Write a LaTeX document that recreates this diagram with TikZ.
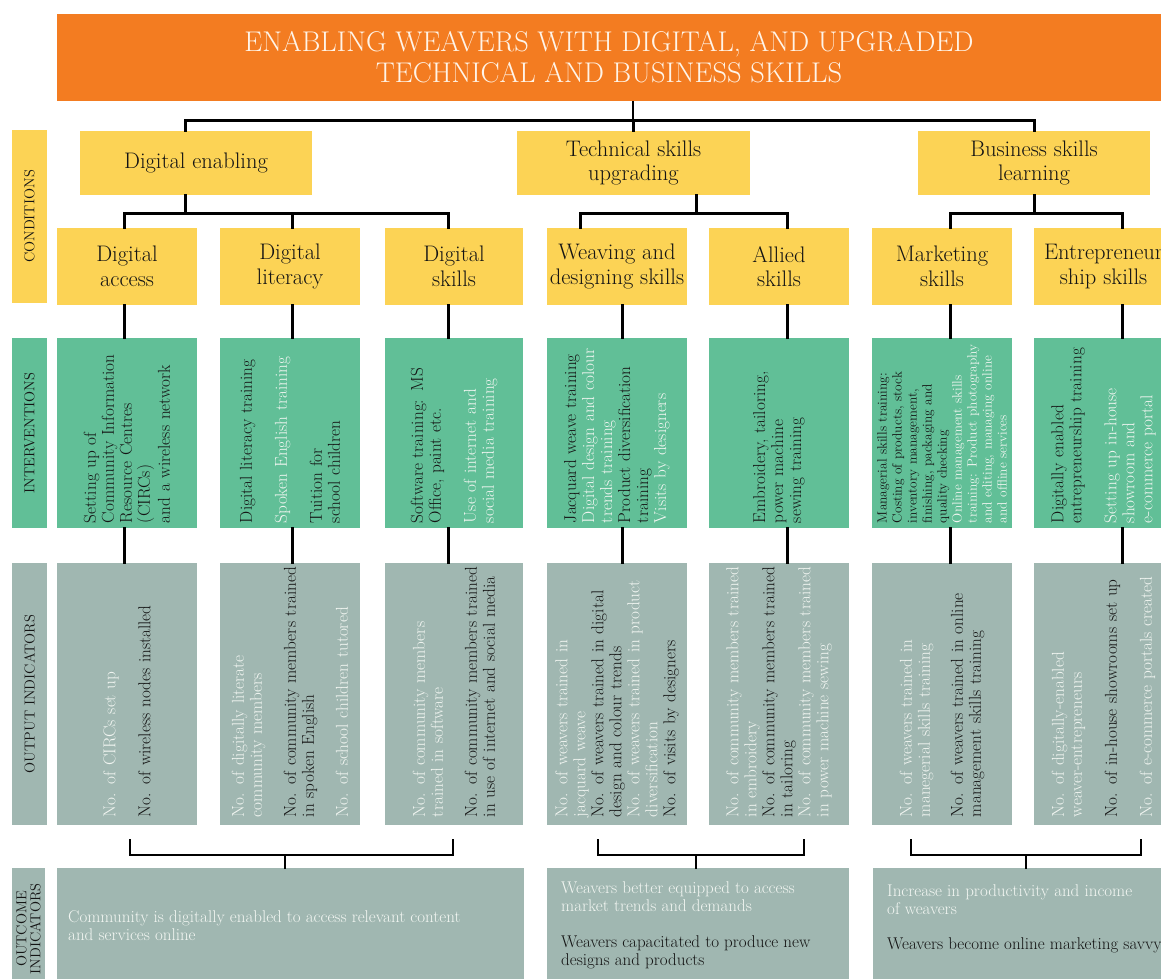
\documentclass[tikz,border=0pt]{standalone}
\usepackage{xcolor}
\usepackage{tikz}
\definecolor{titleorange}{RGB}{243,124,33}
\definecolor{titletext}{RGB}{255,244,232}
\definecolor{condyellow}{RGB}{252,211,85}
\definecolor{intgreen}{RGB}{97,191,151}
\definecolor{outgrey}{RGB}{160,183,177}
\definecolor{darktext}{RGB}{20,20,20}
\definecolor{lighttext}{RGB}{242,246,242}
\newcommand{\lite}[1]{\textcolor{lighttext}{#1}}

\begin{document}
\begin{tikzpicture}[x=1pt, y=-1pt,
    link/.style={line width=3pt, line cap=rect},
    stem/.style={line width=1.5pt},
    bracket/.style={line width=2.4pt, line cap=rect},
    sidebar/.style={rotate=90, inner sep=0pt, minimum height=35pt, align=center, text=darktext, font=\fontsize{14.5}{16}\selectfont},
    condtop/.style={fill=condyellow, minimum width=232pt, minimum height=64pt, inner sep=0pt, align=center, text=darktext, font=\fontsize{22.5}{24.5}\selectfont},
    condsub/.style={condtop, minimum width=140pt, minimum height=77pt},
    intbox/.style={fill=intgreen, minimum width=140pt, minimum height=190pt, inner sep=0pt},
    outbox/.style={fill=outgrey, minimum width=140pt, minimum height=262pt, inner sep=0pt},
    vtext/.style={rotate=90, anchor=west, inner sep=0pt, text width=200pt, align=left, text=darktext, font=\fontsize{17.2}{18}\selectfont},
    vwide/.style={vtext, text width=262pt},
    outcome/.style={fill=outgrey, minimum height=122pt, inner sep=0pt},
    octext/.style={anchor=north west, inner sep=0pt, align=left, text=darktext, font=\fontsize{17}{18}\selectfont}]
    \useasboundingbox (0,0) rectangle (1161,978);
    \clip (0,0) rectangle (1161,978);

    % title
    \node[fill=titleorange, minimum width=1104pt, minimum height=87pt, inner sep=0pt, align=center, text=titletext, font=\fontsize{28.5}{31}\selectfont] (title) at (609,57.5) {ENABLING WEAVERS WITH DIGITAL, AND UPGRADED\\TECHNICAL AND BUSINESS SKILLS};

    % row labels
    \node[sidebar, fill=condyellow, minimum width=173pt] (scond) at (29.5,216.5) {CONDITIONS};
    \node[sidebar, fill=intgreen, minimum width=190pt] (sint) at (29.5,433) {INTERVENTIONS};
    \node[sidebar, fill=outgrey, minimum width=262pt] (sout) at (29.5,694) {OUTPUT INDICATORS};
    \node[sidebar, fill=outgrey, minimum width=122pt, minimum height=33pt, font=\fontsize{14.5}{14}\selectfont] (soc) at (28.5,929) {OUTCOME\\INDICATORS};

    % conditions
    \node[condtop] (digen) at (196,163) {Digital enabling};
    \node[condtop, minimum width=233pt] (tech) at (633.5,163) {Technical skills\\upgrading};
    \node[condtop] (busi) at (1034,163) {Business skills\\learning};

    \node[condsub] (cacc) at (127,266.5) {Digital\\access};
    \node[condsub] (clit) at (290,266.5) {Digital\\literacy};
    \node[condsub, minimum width=138pt] (cskl) at (454,266.5) {Digital\\skills};
    \node[condsub] (cwev) at (617,266.5) {Weaving and\\designing skills};
    \node[condsub] (call) at (779,266.5) {Allied\\skills};
    \node[condsub] (cmkt) at (942,266.5) {Marketing\\skills};
    \node[condsub] (cent) at (1103.5,266.5) {Entrepreneur\\ship skills};

    % interventions
    \node[intbox] (iacc) at (127,433) {};
    \node[intbox] (ilit) at (290,433) {};
    \node[intbox, minimum width=138pt] (iskl) at (454,433) {};
    \node[intbox] (iwev) at (617,433) {};
    \node[intbox] (iall) at (779,433) {};
    \node[intbox] (imkt) at (942,433) {};
    \node[intbox] (ient) at (1103.5,433) {};

    \node[vtext] (tacc) at ([yshift=5pt]iacc.south) {Setting up of\\Community Information\\Resource Centres\\(CIRCs)\\[2pt]and a wireless network};
    \node[vtext] (tlit) at ([yshift=5pt]ilit.south) {Digital literacy training\\[17pt]\lite{Spoken English training}\\[17pt]Tuition for\\school children};
    \node[vtext] (tskl) at ([yshift=5pt]iskl.south) {Software training: MS\\Office, paint etc.\\[17pt]\lite{Use of internet and}\\\lite{social media training}};
    \node[vtext] (twev) at ([yshift=5pt]iwev.south) {Jacquard weave training\\\lite{Digital design and colour}\\\lite{trends training}\\Product diversification\\training\\\lite{Visits by designers}};
    \node[vtext] (tall) at ([yshift=5pt]iall.south) {Embroidery, tailoring,\\power machine\\sewing training};
    \node[vtext, font=\fontsize{13.4}{15}\selectfont] (tmkt) at ([yshift=5pt]imkt.south) {Managerial skills training:\\Costing of products, stock\\inventory management,\\finishing, packaging and\\quality checking\\\lite{Online management skills}\\\lite{training: Product photography}\\\lite{and editing, managing online}\\\lite{and offline services}};
    \node[vtext] (tent) at ([yshift=5pt]ient.south) {Digitally enabled\\entrepreneurship training\\[17pt]\lite{Setting up in-house}\\\lite{showroom and}\\\lite{e-commerce portal}};

    % output indicators
    \node[outbox] (oacc) at (127,694) {};
    \node[outbox] (olit) at (290,694) {};
    \node[outbox, minimum width=138pt] (oskl) at (454,694) {};
    \node[outbox] (owev) at (617,694) {};
    \node[outbox] (oall) at (779,694) {};
    \node[outbox] (omkt) at (942,694) {};
    \node[outbox] (oent) at (1103.5,694) {};

    \node[vwide] (uacc) at ([yshift=8pt]oacc.south) {\lite{No. of CIRCs set up}\\[17pt]No. of wireless nodes installed};
    \node[vwide] (ulit) at ([yshift=8pt]olit.south) {\lite{No. of digitally literate}\\\lite{community members}\\[16pt]No. of community members trained\\in spoken English\\[16pt]\lite{No. of school children tutored}};
    \node[vwide] (uskl) at ([yshift=8pt]oskl.south) {\lite{No. of community members}\\\lite{trained in software}\\[16pt]No. of community members trained\\in use of internet and social media};
    \node[vwide] (uwev) at ([yshift=8pt]owev.south) {\lite{No. of weavers trained in}\\\lite{jacquard weave}\\No. of weavers trained in digital\\design and colour trends\\\lite{No. of weavers trained in product}\\\lite{diversification}\\No. of visits by designers};
    \node[vwide] (uall) at ([yshift=8pt]oall.south) {\lite{No. of community members trained}\\\lite{in embroidery}\\No. of community members trained\\in tailoring\\\lite{No. of community members trained}\\\lite{in power machine sewing}};
    \node[vwide] (umkt) at ([yshift=8pt]omkt.south) {\lite{No. of weavers trained in}\\\lite{manegerial skills training}\\[15pt]No. of weavers trained in online\\management skills training};
    \node[vwide] (uent) at ([yshift=8pt]oent.south) {\lite{No. of digitally-enabled}\\\lite{weaver-entrepreneurs}\\[17pt]No. of in-house showrooms set up\\[17pt]\lite{No. of e-commerce portals created}};

    % outcome indicators
    \node[outcome, minimum width=467pt] (oc1) at (290.5,929) {};
    \node[outcome, minimum width=302pt] (oc2) at (698,929) {};
    \node[outcome, minimum width=300pt] (oc3) at (1023,929) {};
    \node[octext] (toc1) at (68,910) {\lite{Community is digitally enabled to access relevant content}\\\lite{and services online}};
    \node[octext] (toc2) at (561,881) {\lite{Weavers better equipped to access}\\\lite{market trends and demands}\\[18pt]Weavers capacitated to produce new\\designs and products};
    \node[octext] (toc3) at (887,884) {\lite{Increase in productivity and income}\\\lite{of weavers}\\[17pt]Weavers become online marketing savvy};

    % tree: title to conditions
    \coordinate (t0) at (633,120);
    \coordinate (cA) at (185,0);
    \coordinate (cC) at (1034,0);
    \draw[stem] (title.south -| t0) -- (t0);
    \draw[link] (digen.north -| cA) -- (cA |- t0) -- (cC |- t0) -- (busi.north -| cC);
    \draw[link] (t0) -- (tech.north -| t0);

    % tree: conditions to sub-conditions
    \coordinate (j1) at (185,213);
    \coordinate (j2) at (696,213);
    \coordinate (j3) at (1034,213);
    \coordinate (k1) at (124,0);
    \coordinate (k2) at (292,0);
    \coordinate (k3) at (448,0);
    \coordinate (k4) at (622,0);
    \coordinate (k4u) at (580,0);
    \coordinate (k5) at (787,0);
    \coordinate (k6) at (950,0);
    \coordinate (k7) at (1122,0);
    \draw[link] (digen.south -| j1) -- (j1);
    \draw[link] (cacc.north -| k1) -- (k1 |- j1) -- (k3 |- j1) -- (cskl.north -| k3);
    \draw[link] (k2 |- j1) -- (clit.north -| k2);
    \draw[link] (tech.south -| j2) -- (j2);
    \draw[link] (cwev.north -| k4u) -- (k4u |- j2) -- (k5 |- j2) -- (call.north -| k5);
    \draw[link] (busi.south -| j3) -- (j3);
    \draw[link] (cmkt.north -| k6) -- (k6 |- j3) -- (k7 |- j3) -- (cent.north -| k7);

    % columns down
    \draw[link] (cacc.south -| k1) -- (iacc.north -| k1);
    \draw[link] (clit.south -| k2) -- (ilit.north -| k2);
    \draw[link] (cskl.south -| k3) -- (iskl.north -| k3);
    \draw[link] (cwev.south -| k4) -- (iwev.north -| k4);
    \draw[link] (call.south -| k5) -- (iall.north -| k5);
    \draw[link] (cmkt.south -| k6) -- (imkt.north -| k6);
    \draw[link] (cent.south -| k7) -- (ient.north -| k7);
    \draw[link] (iacc.south -| k1) -- (oacc.north -| k1);
    \draw[link] (ilit.south -| k2) -- (olit.north -| k2);
    \draw[link] (iskl.south -| k3) -- (oskl.north -| k3);
    \draw[link] (iwev.south -| k4) -- (owev.north -| k4);
    \draw[link] (iall.south -| k5) -- (oall.north -| k5);
    \draw[link] (imkt.south -| k6) -- (omkt.north -| k6);
    \draw[link] (ient.south -| k7) -- (oent.north -| k7);

    % brackets to outcomes
    \coordinate (b1l) at (130,840);
    \coordinate (b1r) at (453,840);
    \coordinate (b1m) at (285,855);
    \coordinate (b2l) at (598,840);
    \coordinate (b2r) at (804,840);
    \coordinate (b2m) at (696,855);
    \coordinate (b3l) at (911,840);
    \coordinate (b3r) at (1141,840);
    \coordinate (b3m) at (1026,855);
    \draw[bracket] (b1l) |- (b1m) -| (b1r);
    \draw[bracket] (b1m) -- (oc1.north -| b1m);
    \draw[bracket] (b2l) |- (b2m) -| (b2r);
    \draw[bracket] (b2m) -- (oc2.north -| b2m);
    \draw[bracket] (b3l) |- (b3m) -| (b3r);
    \draw[bracket] (b3m) -- (oc3.north -| b3m);
\end{tikzpicture}
\end{document}
